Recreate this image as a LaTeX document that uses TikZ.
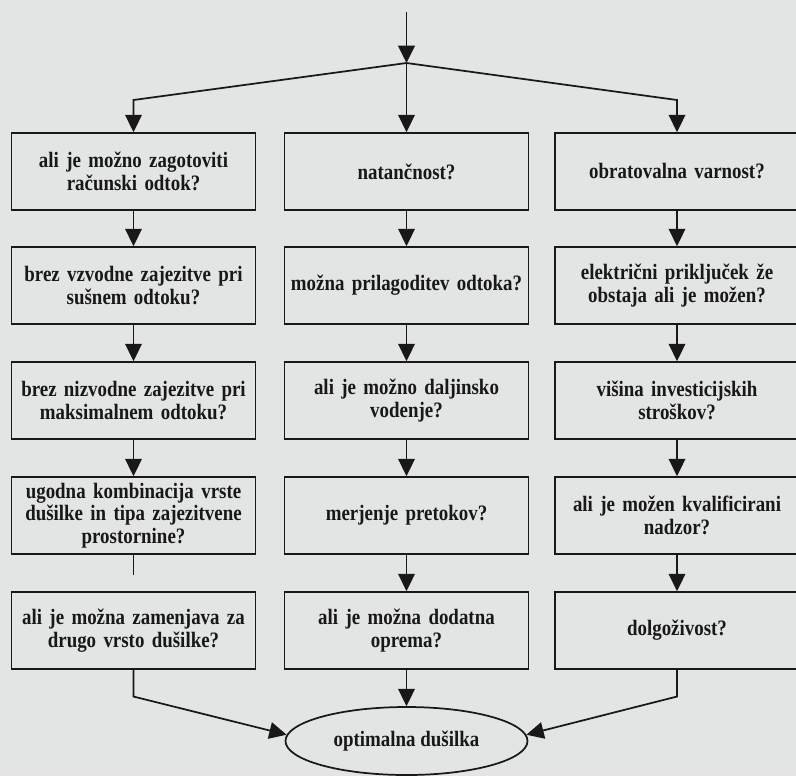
\documentclass[tikz,border=0pt]{standalone}
\usepackage{fontspec}
\setmainfont{Liberation Serif}[FakeStretch=0.86]
\usetikzlibrary{arrows.meta,shapes.geometric}
\definecolor{paper}{RGB}{226,229,227}
\definecolor{ink}{RGB}{24,24,24}

\begin{document}
\begin{tikzpicture}[x=0.75pt,y=-0.75pt,
  box/.style={draw=ink,line width=1.3pt,minimum width=183pt,minimum height=57.75pt,
    text width=178pt,align=center,inner sep=0pt,text=ink,
    font=\bfseries\fontsize{16.5}{17}\selectfont},
  goal/.style={ellipse,draw=ink,line width=1.3pt,minimum width=181.5pt,minimum height=51pt,
    inner sep=0pt,text=ink,font=\bfseries\fontsize{16.5}{17}\selectfont},
  arr/.style={draw=ink,line width=1.3pt,-{Triangle[length=13pt,width=12.5pt]}},
  link/.style={draw=ink,line width=1.3pt}]
  \fill[paper] (0,0) rectangle (796,776);
  \useasboundingbox (0,0) rectangle (796,776);

  % left column
  \node[box] (l1) at (133.5,171.5) {ali je možno zagotoviti\\računski odtok?};
  \node[box] (l2) at (133.5,285.5) {brez vzvodne zajezitve pri\\sušnem odtoku?};
  \node[box] (l3) at (133.5,400.5) {brez nizvodne zajezitve pri\\maksimalnem odtoku?};
  \node[box] (l4) at (133.5,515.5) {ugodna kombinacija vrste\\dušilke in tipa zajezitvene\\prostornine?};
  \node[box] (l5) at (133.5,630.5) {ali je možna zamenjava za\\drugo vrsto dušilke?};

  % middle column
  \node[box] (m1) at (406.5,171.5) {natančnost?};
  \node[box] (m2) at (406.5,285.5) {možna prilagoditev odtoka?};
  \node[box] (m3) at (406.5,400.5) {ali je možno daljinsko\\vodenje?};
  \node[box] (m4) at (406.5,515.5) {merjenje pretokov?};
  \node[box] (m5) at (406.5,630.5) {ali je možna dodatna\\oprema?};

  % right column
  \node[box] (r1) at (677,171.5) {obratovalna varnost?};
  \node[box] (r2) at (677,285.5) {električni priključek že\\obstaja ali je možen?};
  \node[box] (r3) at (677,400.5) {višina investicijskih\\stroškov?};
  \node[box] (r4) at (677,515.5) {ali je možen kvalificirani\\nadzor?};
  \node[box] (r5) at (677,630.5) {dolgoživost?};

  \node[goal] (end) at (406.5,741) {optimalna dušilka};

  % fork at the top
  \coordinate (start) at (406.5,12);
  \coordinate (fork) at (406.5,63);
  \draw[arr] (start) -- (fork);
  \draw[arr] (fork) -- (l1.north |- 0,100) -- (l1.north);
  \draw[arr] (fork) -- (m1);
  \draw[arr] (fork) -- (r1.north |- 0,100) -- (r1.north);

  \draw[arr] (l1) -- (l2);
  \draw[arr] (l2) -- (l3);
  \draw[arr] (l3) -- (l4);
  \draw[link] (l4.south) -- ([yshift=-15pt]l4.south);

  \draw[arr] (m1) -- (m2);
  \draw[arr] (m2) -- (m3);
  \draw[arr] (m3) -- (m4);
  \draw[arr] (m4) -- (m5);

  \draw[arr] (r1) -- (r2);
  \draw[arr] (r2) -- (r3);
  \draw[arr] (r3) -- (r4);
  \draw[arr] (r4) -- (r5);

  % join at the bottom
  \draw[arr] (l5.south) -- ([yshift=-20pt]l5.south) -- (end.177);
  \draw[arr] (m5) -- (end);
  \draw[arr] (r5.south) -- ([yshift=-20pt]r5.south) -- (end.3);
\end{tikzpicture}
\end{document}
